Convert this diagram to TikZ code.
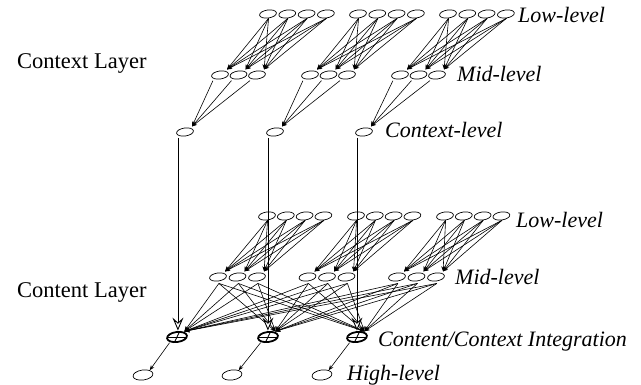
\documentclass[tikz,border=0pt]{standalone}
\usepackage{fontspec}
\setmainfont{Liberation Serif}
\usetikzlibrary{arrows.meta,shapes.geometric}
\begin{document}
\begin{tikzpicture}[x=1pt,y=-1pt,
  unit/.style={draw,ellipse,minimum width=17pt,minimum height=8pt,inner sep=0pt,line width=0.7pt,rotate=8},
  hub/.style={outer sep=2.5pt},
  integ/.style={draw,ellipse,minimum width=20pt,minimum height=10pt,inner sep=0pt,line width=1.8pt,outer sep=1.5pt,rotate=8,
    path picture={\draw[line width=0.9pt] (path picture bounding box.west) -- (path picture bounding box.east);
                  \draw[line width=0.9pt] ([xshift=3pt]path picture bounding box.north) -- ([xshift=-3pt]path picture bounding box.south);}},
  sarrow/.style={line width=0.6pt,-{Stealth[length=5pt,width=4pt]}},
  harrow/.style={line width=0.6pt,-{Stealth[open,fill=white,length=13pt,width=11pt,inset=5pt,line width=0.9pt]}},
  lab/.style={anchor=base west,inner sep=0pt,font=\fontsize{22}{26}\selectfont\itshape},
  layer/.style={anchor=base west,inner sep=0pt,font=\fontsize{22.5}{26}\selectfont}]
\useasboundingbox (0,0) rectangle (641,385);

% ---- Context layer ----
\foreach \g in {0,1,2} {
  \foreach \k in {0,...,3} \node[unit] (tl\g\k) at ({268+90*\g+19.3*\k},14) {};
  \foreach \k in {0,1,2} \node[unit,hub] (tm\g\k) at ({220+90*\g+18.5*\k},75) {};
}
\node[unit,hub] (tc0) at (185,132) {};
\node[unit,hub] (tc1) at (275,132) {};
\node[unit,hub] (tc2) at (364,132) {};

\foreach \g in {0,1,2} {
  \foreach \k in {0,...,3} {
    \foreach \j in {0,1,2} \draw[sarrow] (tl\g\k.south) -- (tm\g\j.north east);
  }
  \foreach \k in {0,1,2} \draw[sarrow] (tm\g\k.south west) -- (tc\g.north east);
}

% ---- Content layer ----
\foreach \g in {0,1,2} {
  \foreach \k in {0,...,3} \node[unit] (bl\g\k) at ({267+89*\g+18.8*\k},216) {};
  \foreach \k in {0,1,2} \node[unit,hub] (bm\g\k) at ({218+89.5*\g+19.5*\k},277) {};
}
\node[integ] (i0) at (177,337) {};
\node[integ] (i1) at (268,337) {};
\node[integ] (i2) at (357,337) {};
\node[unit,minimum width=20pt,minimum height=10pt] (h0) at (143,375) {};
\node[unit,minimum width=20pt,minimum height=10pt] (h1) at (232,375) {};
\node[unit,minimum width=20pt,minimum height=10pt] (h2) at (322,375) {};

\foreach \g in {0,1,2} {
  \foreach \k in {0,...,3} {
    \foreach \j in {0,1,2} \draw[sarrow] (bl\g\k.south) -- (bm\g\j.north east);
  }
  \foreach \k in {0,1,2} {
    \foreach \h in {0,1,2} \draw[sarrow] (bm\g\k.south) -- (i\h.north east);
  }
  \draw[harrow] (tc\g.south west) -- (tc\g.south west |- i\g.north);
  \draw[sarrow] (i\g.south west) -- (h\g.north east);
}

% ---- Labels ----
\node[layer] (lctx) at (17,69) {Context Layer};
\node[layer] (lcnt) at (17,298) {Content Layer};
\node[lab] (tlow) at (518,23) {Low-level};
\node[lab] (tmid) at (457,82) {Mid-level};
\node[lab] (tctx) at (385,138) {Context-level};
\node[lab] (blow) at (516,228) {Low-level};
\node[lab] (bmid) at (455,285) {Mid-level};
\node[lab] (bint) at (378,347) {Content/Context Integration};
\node[lab] (bhigh) at (347,381) {High-level};
\end{tikzpicture}
\end{document}
